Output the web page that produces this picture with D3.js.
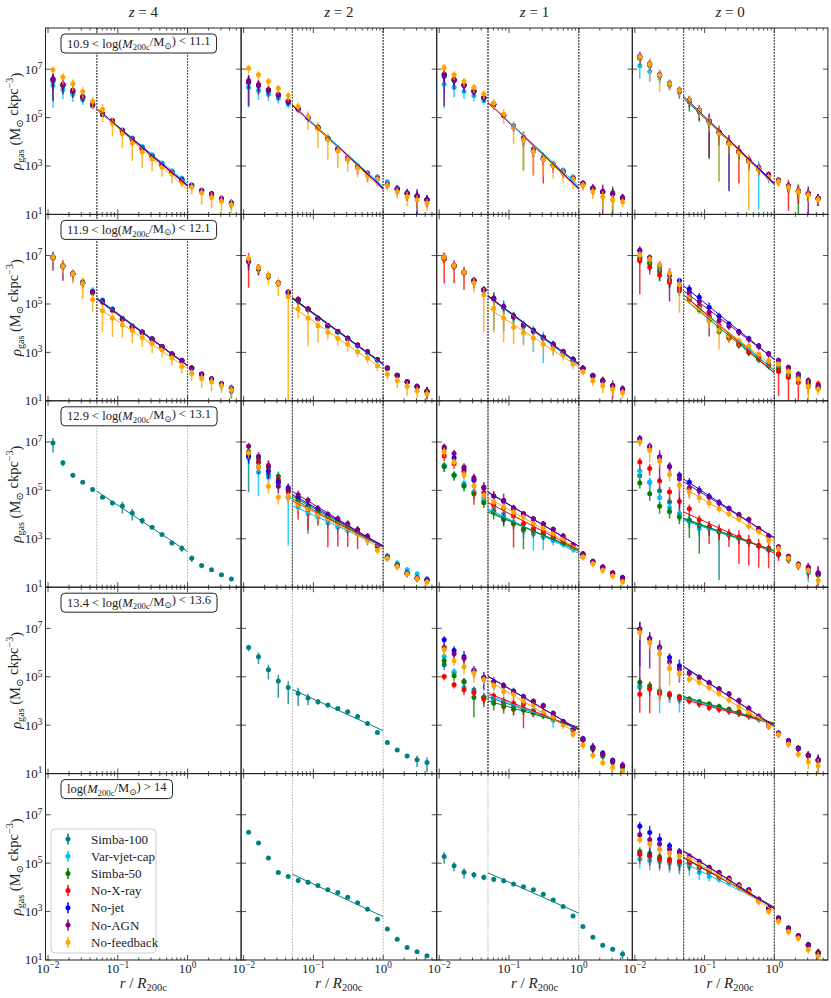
<!DOCTYPE html>
<html>
  <head>
    <meta charset="utf-8">
    <title>Gas density profiles</title>
    <style>
      body { margin: 0; background: #fff; }
      text { font-family: "Liberation Serif", "DejaVu Serif", serif; fill: #222; }
      .frame { fill: none; stroke: #222; stroke-width: 1px; }
      .tick { stroke: #222; stroke-width: 0.8px; }
    </style>
    <script src="https://cdn.jsdelivr.net/npm/d3@7"></script>
  </head>
  <body>
  <script type="text/javascript">
    // radial bin centres, r / R200c
    var rBins = [0.01178, 0.01634, 0.02266, 0.03143, 0.04358, 0.06044, 0.08382, 0.1162, 0.1612, 0.2236,
                 0.3101, 0.4300, 0.5964, 0.8271, 1.147, 1.591, 2.206, 3.060, 4.243];
    var seriesNames = ["Simba-100", "Var-vjet-cap", "Simba-50", "No-X-ray", "No-jet", "No-AGN", "No-feedback"];
    var seriesColors = ["#008080", "#00bfff", "#008000", "#ff0000", "#0000ff", "#800080", "#ffa500"];
    var zLabels = ["4", "2", "1", "0"];
    var massRanges = [["10.9", "11.1"], ["11.9", "12.1"], ["12.9", "13.1"], ["13.4", "13.6"], [null, "14"]];

    // log10(rho_gas) per series (order as seriesNames), and relative errors
    var rho_m11_z4 = [
      [6.50,6.30,6.05,5.80,5.50,5.13,4.85,4.45,4.10,3.73,3.40,3.05,2.74,2.43,2.18,1.97,1.83,1.64,1.46],
      [6.33,6.15,5.95,5.74,5.50,5.14,4.88,4.50,4.16,3.80,3.46,3.12,2.80,2.50,2.22,2.00,1.85,1.66,1.48],
      [6.55,6.33,6.08,5.83,5.52,5.12,4.85,4.44,4.09,3.72,3.39,3.04,2.73,2.42,2.18,1.97,1.82,1.63,1.45],
      [6.58,6.37,6.12,5.86,5.54,5.16,4.86,4.45,4.09,3.72,3.38,3.03,2.72,2.41,2.18,1.97,1.83,1.64,1.46],
      [6.60,6.38,6.13,5.87,5.55,5.15,4.88,4.47,4.12,3.75,3.41,3.06,2.76,2.44,2.20,1.99,1.85,1.66,1.48],
      [6.57,6.36,6.11,5.85,5.53,5.14,4.87,4.46,4.11,3.74,3.40,3.05,2.75,2.43,2.19,1.98,1.84,1.65,1.47],
      [6.98,6.67,6.40,6.08,5.67,5.33,4.77,4.33,3.95,3.57,3.29,2.95,2.67,2.32,2.12,1.88,1.70,1.54,1.40]];
    var err_m11_z4 = [
      [.85,.5,.4,.3,.25,.2,.2,.2,.2,.2,.2,.2,.2,.2,.2,.3,.3,.3,.4],
      [.88,.6,.5,.4,.3,.2,.2,.2,.2,.2,.2,.2,.2,.2,.2,.3,.3,.3,.4],
      [.6,.4,.3,.3,.2,.2,.2,.2,.2,.2,.2,.2,.2,.2,.2,.3,.3,.3,.3],
      [.6,.4,.3,.3,.2,.2,.2,.3,.3,.2,.2,.2,.2,.2,.2,.3,.3,.3,.3],
      [.6,.4,.3,.3,.2,.2,.2,.2,.2,.2,.2,.2,.2,.2,.2,.3,.3,.3,.3],
      [.87,.6,.5,.4,.3,.25,.25,.25,.25,.2,.2,.2,.2,.2,.2,.3,.3,.35,.4],
      [.35,.5,.5,.5,.5,.7,.72,.75,.82,.78,.7,.6,.6,.4,.5,.67,.64,.63,.55]];

    var rho_m11_z2 = [
      [6.45,6.33,6.12,5.92,5.64,5.35,5.00,4.58,4.13,3.70,3.31,2.97,2.68,2.49,2.24,2.04,1.87,1.75,1.61],
      [6.24,6.12,5.97,5.80,5.55,5.36,5.02,4.62,4.18,3.74,3.36,3.01,2.72,2.56,2.35,2.10,1.90,1.78,1.62],
      [6.50,6.34,6.13,5.93,5.65,5.35,4.99,4.58,4.13,3.69,3.31,2.96,2.68,2.48,2.23,2.04,1.86,1.76,1.61],
      [6.52,6.36,6.15,5.95,5.67,5.37,5.02,4.60,4.12,3.68,3.30,2.95,2.65,2.47,2.22,2.03,1.85,1.74,1.60],
      [6.48,6.34,6.13,5.93,5.65,5.34,4.98,4.57,4.12,3.68,3.30,2.95,2.66,2.48,2.22,2.04,1.86,1.75,1.61],
      [6.49,6.35,6.14,5.94,5.66,5.36,5.00,4.59,4.14,3.70,3.32,2.97,2.68,2.49,2.24,2.05,1.87,1.76,1.62],
      [7.04,6.77,6.49,6.21,5.90,5.46,5.02,4.55,4.08,3.62,3.28,2.93,2.62,2.45,2.20,1.94,1.73,1.59,1.45]];
    var err_m11_z2 = [
      [.9,.5,.4,.3,.3,.2,.2,.2,.2,.2,.2,.2,.2,.2,.2,.3,.3,.4,.4],
      [.85,.6,.5,.4,.3,.2,.2,.2,.2,.2,.2,.2,.2,.2,.3,.3,.3,.4,.4],
      [.5,.4,.3,.3,.3,.2,.2,.2,.2,.2,.2,.2,.2,.2,.2,.3,.3,.4,.4],
      [.5,.4,.3,.3,.3,.3,.4,.3,.3,.3,.4,.5,.5,.5,.3,.3,.4,.5,.5],
      [.5,.4,.3,.3,.3,.2,.2,.2,.2,.2,.2,.2,.2,.2,.3,.4,.5,.95,.5],
      [.9,.6,.5,.4,.3,.3,.3,.3,.3,.3,.3,.3,.3,.3,.3,.4,.5,.7,.5],
      [.4,.4,.4,.4,.4,.5,.7,.84,.85,.8,.7,.6,.5,.5,.4,.5,.6,.6,.5]];

    var rho_m11_z1 = [
      [6.70,6.52,6.32,6.08,5.81,5.54,5.10,4.62,4.13,3.66,3.32,3.04,2.77,2.49,2.28,2.08,1.94,1.86,1.68],
      [6.38,6.24,6.08,5.90,5.69,5.52,5.12,4.66,4.20,3.72,3.38,3.10,2.83,2.56,2.30,2.10,1.95,1.87,1.70],
      [6.80,6.57,6.36,6.10,5.83,5.55,5.10,4.62,4.13,3.64,3.30,3.02,2.75,2.48,2.27,2.07,1.94,1.86,1.68],
      [6.78,6.56,6.35,6.10,5.83,5.55,5.11,4.63,4.12,3.62,3.28,3.01,2.74,2.47,2.27,2.07,1.93,1.85,1.68],
      [6.76,6.55,6.34,6.09,5.82,5.54,5.10,4.62,4.13,3.65,3.31,3.03,2.76,2.48,2.28,2.08,1.94,1.86,1.69],
      [6.77,6.56,6.35,6.10,5.83,5.55,5.11,4.63,4.14,3.66,3.32,3.04,2.77,2.49,2.28,2.08,1.94,1.87,1.69],
      [7.07,6.77,6.49,6.24,5.97,5.60,5.14,4.60,4.07,3.60,3.28,3.00,2.72,2.45,2.20,1.94,1.73,1.60,1.52]];
    var err_m11_z1 = [
      [.8,.5,.4,.3,.3,.2,.2,.2,.3,.3,.3,.2,.2,.2,.2,.3,.3,.4,.4],
      [.9,.6,.5,.4,.3,.2,.2,.2,.2,.2,.2,.2,.2,.2,.2,.3,.3,.4,.4],
      [.5,.4,.3,.3,.3,.2,.2,.3,.95,.4,.4,.3,.2,.2,.2,.3,.3,.95,.4],
      [.5,.4,.3,.3,.3,.2,.3,.3,.5,.9,.9,.5,.4,.3,.3,.3,.4,.5,.4],
      [.5,.4,.3,.3,.3,.2,.2,.2,.3,.3,.3,.3,.3,.3,.3,.3,.4,.5,.4],
      [.95,.6,.5,.4,.3,.3,.3,.4,.5,.5,.5,.4,.3,.3,.4,.5,.95,.6,.4],
      [.4,.4,.4,.4,.4,.5,.6,.8,.95,.9,.8,.7,.6,.6,.4,.5,.7,.6,.4]];

    var rho_m11_z0 = [
      [7.45,7.16,6.74,6.38,6.10,5.70,5.26,4.84,4.38,3.94,3.58,3.22,2.90,2.60,2.39,2.15,1.96,1.84,1.66],
      [7.14,6.90,6.72,6.40,6.12,5.72,5.28,4.84,4.38,3.95,3.58,3.20,2.90,2.58,2.40,2.15,1.96,1.84,1.66],
      [7.48,7.18,6.74,6.38,6.08,5.65,5.24,4.80,4.35,3.92,3.56,3.20,2.88,2.58,2.38,2.14,1.95,1.84,1.65],
      [7.50,7.20,6.76,6.40,6.12,5.70,5.28,4.85,4.38,3.95,3.58,3.20,2.88,2.59,2.40,2.15,1.96,1.85,1.66],
      [7.52,7.21,6.77,6.41,6.13,5.72,5.30,4.86,4.40,3.97,3.60,3.23,2.90,2.62,2.41,2.17,1.97,1.86,1.67],
      [7.53,7.22,6.77,6.42,6.14,5.73,5.31,4.87,4.40,3.98,3.62,3.25,2.95,2.66,2.41,2.17,1.97,1.86,1.67],
      [7.50,7.20,6.75,6.40,6.12,5.72,5.28,4.82,4.35,3.92,3.55,3.18,2.88,2.55,2.36,2.12,1.94,1.80,1.62]];
    var err_m11_z0 = [
      [.5,.4,.4,.3,.3,.3,.3,.5,.5,.5,.4,.4,.3,.3,.3,.4,.5,.5,.5],
      [.7,.6,.5,.4,.3,.3,.4,.6,.99,.99,.6,.6,.98,.5,.3,.4,.5,.5,.5],
      [.5,.4,.4,.4,.5,.6,.6,.97,.7,.6,.5,.5,.4,.3,.3,.5,.98,.5,.5],
      [.5,.4,.4,.3,.3,.3,.4,.5,.6,.6,.95,.6,.5,.4,.4,.9,.7,.5,.5],
      [.5,.4,.4,.3,.3,.3,.3,.5,.5,.5,.5,.4,.4,.3,.3,.4,.5,.5,.5],
      [.5,.5,.4,.4,.4,.5,.6,.97,.7,.99,.6,.5,.4,.3,.3,.4,.5,.99,.5],
      [.5,.82,.8,.5,.4,.4,.5,.6,.99,.6,.6,.99,.5,.4,.4,.4,.5,.5,.4]];

    var rho_m12_z4 = [
      [6.90,6.55,6.23,5.87,5.48,5.10,4.75,4.38,4.06,3.82,3.54,3.23,2.92,2.65,2.35,2.10,1.90,1.68,1.40],
      [6.95,6.60,6.28,5.93,5.55,5.16,4.80,4.42,4.10,3.85,3.56,3.24,2.94,2.66,2.34,2.08,1.88,1.66,1.48],
      [6.92,6.56,6.24,5.86,5.47,5.09,4.74,4.37,4.05,3.82,3.54,3.22,2.92,2.65,2.35,2.10,1.90,1.69,1.50],
      [6.93,6.57,6.25,5.88,5.49,5.11,4.76,4.38,4.06,3.83,3.55,3.23,2.93,2.66,2.35,2.10,1.90,1.69,1.51],
      [6.94,6.57,6.25,5.88,5.50,5.12,4.76,4.39,4.07,3.84,3.56,3.24,2.94,2.67,2.36,2.11,1.91,1.70,1.52],
      [6.93,6.56,6.24,5.87,5.48,5.10,4.75,4.38,4.06,3.83,3.55,3.23,2.93,2.66,2.35,2.10,1.90,1.69,1.51],
      [6.93,6.56,6.24,5.85,5.18,4.72,4.41,4.13,3.90,3.62,3.37,3.11,2.77,2.42,2.13,1.92,1.79,1.62,1.45]];
    var err_m12_z4 = [
      [.3,.3,.3,.3,.3,.3,.2,.2,.2,.2,.2,.2,.2,.2,.2,.2,.3,.4,.5],
      [.3,.3,.3,.3,.4,.3,.3,.2,.2,.2,.2,.2,.2,.2,.2,.2,.3,.3,.4],
      [.3,.3,.3,.3,.3,.3,.2,.2,.2,.2,.2,.2,.2,.2,.2,.2,.3,.3,.4],
      [.3,.3,.3,.3,.3,.3,.2,.2,.2,.2,.2,.2,.2,.2,.2,.2,.3,.3,.4],
      [.3,.3,.3,.3,.3,.3,.2,.2,.2,.2,.2,.2,.2,.2,.2,.2,.3,.3,.4],
      [.72,.75,.5,.4,.3,.3,.2,.2,.2,.2,.2,.2,.2,.2,.2,.2,.3,.3,.4],
      [.4,.5,.6,.78,.7,.87,.83,.7,.7,.6,.6,.5,.5,.5,.5,.6,.6,.5,.5]];

    var rho_m12_z2 = [
      [6.76,6.46,6.15,5.86,5.47,5.16,4.78,4.40,4.09,3.85,3.57,3.29,3.02,2.69,2.34,2.05,1.78,1.57,1.37],
      [6.80,6.48,6.17,5.86,5.46,5.14,4.76,4.38,4.06,3.82,3.54,3.26,2.99,2.67,2.33,2.04,1.78,1.58,1.38],
      [6.74,6.44,6.14,5.86,5.47,5.12,4.78,4.40,4.09,3.85,3.57,3.29,3.02,2.70,2.35,2.06,1.79,1.59,1.39],
      [6.82,6.50,6.18,5.88,5.49,5.19,4.80,4.42,4.11,3.87,3.59,3.31,3.04,2.71,2.35,2.06,1.79,1.59,1.39],
      [6.78,6.47,6.16,5.87,5.48,5.17,4.79,4.41,4.10,3.86,3.58,3.30,3.03,2.70,2.35,2.06,1.79,1.59,1.39],
      [6.79,6.48,6.17,5.87,5.48,5.18,4.79,4.41,4.10,3.86,3.58,3.30,3.03,2.70,2.35,2.06,1.79,1.59,1.39],
      [6.88,6.50,6.17,5.85,5.30,4.79,4.41,4.10,3.83,3.58,3.34,3.03,2.77,2.45,2.10,1.83,1.59,1.41,1.28]];
    var err_m12_z2 = [
      [.4,.3,.3,.3,.3,.3,.2,.2,.2,.2,.2,.2,.2,.2,.2,.2,.3,.3,.5],
      [.4,.3,.3,.3,.3,.3,.3,.2,.2,.2,.3,.2,.2,.2,.2,.2,.3,.3,.4],
      [.4,.4,.3,.3,.3,.5,.3,.2,.2,.2,.2,.2,.2,.2,.2,.2,.3,.3,.4],
      [.93,.4,.3,.3,.3,.3,.2,.2,.2,.2,.2,.2,.2,.2,.2,.2,.3,.3,.4],
      [.4,.3,.3,.3,.3,.3,.2,.2,.2,.2,.2,.2,.2,.2,.2,.2,.3,.3,.5],
      [.6,.5,.3,.3,.3,.3,.2,.2,.2,.2,.2,.2,.2,.2,.2,.2,.3,.3,.5],
      [.4,.4,.6,.7,1,.6,.93,.8,.5,.5,.5,.4,.4,.4,.4,.5,.6,.5,.5]];

    var rho_m12_z1 = [
      [6.90,6.57,6.29,5.95,5.57,5.20,4.87,4.47,4.11,3.88,3.60,3.32,3.01,2.70,2.33,2.02,1.82,1.61,1.47],
      [6.92,6.58,6.30,5.96,5.58,5.22,4.86,4.45,4.07,3.84,3.56,3.29,2.98,2.68,2.32,2.01,1.81,1.60,1.46],
      [6.91,6.58,6.30,5.96,5.58,5.22,4.88,4.48,4.12,3.89,3.61,3.33,3.02,2.71,2.34,2.03,1.83,1.62,1.48],
      [6.85,6.55,6.28,5.95,5.58,5.22,4.88,4.48,4.12,3.89,3.61,3.33,3.02,2.71,2.34,2.03,1.83,1.62,1.48],
      [6.94,6.60,6.32,5.98,5.60,5.24,4.90,4.50,4.14,3.91,3.63,3.35,3.04,2.73,2.35,2.04,1.84,1.63,1.49],
      [6.93,6.59,6.31,5.97,5.59,5.23,4.89,4.49,4.13,3.90,3.62,3.34,3.03,2.72,2.34,2.03,1.83,1.62,1.48],
      [6.93,6.59,6.31,5.87,5.37,4.82,4.41,4.03,3.80,3.58,3.34,3.14,2.89,2.52,2.20,1.83,1.62,1.48,1.34]];
    var err_m12_z1 = [
      [.4,.3,.3,.3,.3,.95,.9,.6,.4,.3,.3,.3,.3,.3,.3,.3,.3,.3,.4],
      [.4,.3,.3,.3,.3,.4,.4,.6,.8,.85,.9,.6,.4,.3,.3,.3,.3,.3,.4],
      [.4,.3,.3,.3,.4,.6,.5,.5,.4,.3,.3,.3,.3,.3,.3,.3,.3,.3,.4],
      [.9,.8,.8,.5,.4,.3,.3,.3,.3,.3,.3,.3,.3,.3,.3,.3,.3,.3,.4],
      [.4,.3,.3,.3,.3,.3,.3,.3,.3,.3,.3,.3,.3,.3,.3,.3,.4,.3,.4],
      [.4,.3,.3,.3,.3,.3,.3,.3,.3,.3,.3,.3,.3,.3,.3,.3,.5,.7,.4],
      [.4,.3,.3,.6,.97,.9,.9,.8,.7,.6,.6,.5,.4,.4,.3,.4,.5,.5,.4]];

    var rho_m12_z0 = [
      [6.90,6.72,6.42,6.00,5.66,5.30,4.88,4.45,4.05,3.70,3.42,3.12,2.85,2.55,2.39,2.10,2.00,1.75,1.55],
      [6.93,6.75,6.45,6.03,5.69,5.35,4.93,4.38,4.03,3.62,3.41,3.11,2.83,2.56,2.35,2.08,1.98,1.75,1.55],
      [6.86,6.66,6.34,5.97,5.55,5.18,4.76,4.31,3.86,3.62,3.30,3.00,2.72,2.45,2.31,2.03,1.95,1.73,1.52],
      [6.79,6.52,6.20,5.90,5.62,5.21,4.90,4.52,4.10,3.58,3.34,3.03,2.75,2.48,2.21,1.97,1.76,1.59,1.69],
      [7.21,6.92,6.60,6.22,5.97,5.62,5.28,4.86,4.49,4.17,3.86,3.57,3.27,2.95,2.66,2.38,2.10,1.83,1.62],
      [7.21,6.90,6.59,6.20,5.76,5.48,5.10,4.66,4.31,4.08,3.83,3.55,3.25,2.93,2.66,2.38,2.10,1.83,1.59],
      [7.03,6.86,6.61,6.27,5.79,5.28,4.79,4.31,3.94,3.69,3.48,3.25,2.93,2.66,2.52,2.20,1.90,1.59,1.48]];
    var err_m12_z0 = [
      [.4,.3,.3,.3,.3,.3,.3,.3,.3,.3,.3,.3,.3,.3,.3,.3,.3,.3,.3],
      [.5,.6,.7,.5,.4,.3,.3,.3,.3,.3,.3,.3,.3,.3,.3,.3,.3,.3,.3],
      [.4,.5,.6,.5,.4,.3,.3,.3,.3,.3,.3,.3,.3,.3,.3,.3,.3,.3,.3],
      [.96,.5,.4,.4,.4,.3,.3,.3,.3,.3,.3,.3,.3,.3,.9,.9,.85,.5,.4],
      [.4,.3,.3,.3,.3,.5,.5,.6,.4,.3,.3,.3,.3,.3,.3,.3,.3,.3,.3],
      [.5,.4,.5,.92,.4,.3,.3,.9,.4,.3,.3,.3,.3,.3,.3,.3,.3,.4,.4],
      [.4,.4,.5,.6,.93,.4,.4,.5,.85,.5,.4,.4,.3,.3,.3,.4,.4,.9,.4]];

    var rho_m13_z4 = [
      [6.96,6.14,5.62,5.34,5.04,4.72,4.48,4.35,4.06,3.76,3.48,3.18,2.83,2.61,2.20,1.90,1.72,1.51,1.34]];
    var err_m13_z4 = [
      [.6,.3,.2,.15,.1,.15,.2,.5,.5,.3,.15,.1,.15,.3,.3,.1,.1,.1,.1]];

    var rho_m13_z2 = [
      [6.45,6.15,5.65,5.40,4.72,4.55,4.30,4.05,3.85,3.65,3.50,3.28,3.03,2.68,2.24,1.90,1.58,1.37,1.30],
      [6.35,5.76,5.55,5.30,4.72,4.31,4.03,3.90,3.65,3.48,3.34,3.21,3.07,2.68,2.31,2.00,1.72,1.55,1.35],
      [6.60,6.31,5.95,5.58,5.05,4.61,4.38,4.15,3.92,3.75,3.55,3.33,3.07,2.72,2.24,1.90,1.58,1.37,1.30],
      [6.52,6.17,5.99,5.44,4.93,4.42,4.20,4.06,3.81,3.68,3.50,3.28,3.03,2.70,2.24,1.90,1.58,1.37,1.30],
      [6.41,5.97,5.80,5.34,5.11,4.72,4.34,4.24,4.00,3.82,3.60,3.36,3.10,2.73,2.24,1.90,1.58,1.37,1.30],
      [6.82,6.41,6.03,5.17,5.00,4.82,4.59,4.24,4.01,3.83,3.62,3.37,3.10,2.72,2.24,1.90,1.58,1.37,1.30],
      [6.54,5.97,5.17,4.72,4.75,4.42,4.24,3.97,3.83,3.62,3.48,3.21,2.93,2.52,2.20,1.85,1.55,1.35,1.21]];
    var err_m13_z2 = [
      [.97,.5,.4,.4,.4,.5,.92,.4,.3,.3,.3,.3,.3,.3,.3,.3,.3,.3,.3],
      [.6,.9,.5,.5,.99,.5,.6,.5,.4,.4,.4,.3,.3,.3,.3,.3,.3,.3,.3],
      [.5,.5,.5,.6,.6,.4,.4,.3,.3,.3,.3,.3,.3,.3,.3,.3,.3,.3,.3],
      [.5,.5,.7,.5,.5,.77,.85,.7,.93,.9,.85,.8,.5,.3,.3,.3,.3,.3,.3],
      [.5,.5,.5,.5,.5,.4,.4,.4,.3,.3,.3,.3,.3,.3,.3,.3,.3,.3,.3],
      [.4,.5,.6,.5,.5,.5,.4,.4,.3,.3,.3,.3,.3,.3,.3,.3,.3,.3,.3],
      [.4,.4,.5,.5,.5,.5,.4,.4,.3,.3,.3,.3,.3,.3,.3,.3,.3,.3,.3]];

    var rho_m13_z1 = [
      [5.99,5.62,5.20,4.90,4.55,4.15,3.90,3.65,3.40,3.30,3.12,2.97,2.82,2.60,2.32,2.04,1.80,1.57,1.37],
      [6.03,5.65,5.28,4.95,4.66,4.24,4.03,3.66,3.35,3.21,3.07,2.93,2.79,2.58,2.30,2.02,1.78,1.56,1.35],
      [5.99,5.62,5.18,4.86,4.49,4.10,3.80,3.62,3.39,3.34,3.17,3.02,2.85,2.62,2.33,2.05,1.80,1.58,1.38],
      [6.42,6.10,5.79,5.41,4.90,4.40,4.27,3.94,3.62,3.41,3.28,3.11,2.95,2.68,2.35,2.05,1.80,1.55,1.35],
      [6.72,6.35,5.90,5.45,5.10,4.77,4.55,4.25,4.02,3.82,3.60,3.38,3.10,2.75,2.38,2.06,1.83,1.59,1.40],
      [6.79,6.52,5.97,5.52,5.14,4.77,4.59,4.27,4.03,3.83,3.62,3.39,3.11,2.75,2.38,2.06,1.83,1.59,1.37],
      [6.61,6.17,5.65,5.18,4.79,4.52,4.31,4.10,3.90,3.62,3.44,3.21,3.00,2.61,2.25,1.97,1.70,1.46,1.22]];
    var err_m13_z1 = [
      [.4,.3,.3,.3,.3,.3,.3,.3,.3,.3,.3,.3,.3,.3,.3,.3,.3,.3,.3],
      [.4,.4,.4,.3,.4,.4,.4,.4,.5,.8,.7,.4,.3,.3,.3,.3,.3,.3,.3],
      [.4,.4,.4,.4,.4,.5,.5,.4,.85,.5,.4,.3,.3,.3,.3,.3,.3,.3,.3],
      [.4,.4,.5,.9,.5,.4,.5,.95,.6,.5,.4,.3,.3,.3,.3,.3,.3,.3,.3],
      [.4,.4,.4,.4,.4,.4,.4,.4,.3,.3,.3,.3,.3,.3,.3,.3,.3,.3,.3],
      [.4,.4,.4,.4,.6,.6,.9,.4,.3,.3,.3,.3,.3,.3,.3,.3,.3,.3,.3],
      [.4,.4,.4,.4,.4,.4,.4,.4,.3,.3,.3,.3,.3,.3,.3,.3,.3,.3,.3]];

    var rho_m13_z0 = [
      [5.60,5.34,4.98,4.52,4.03,3.78,3.58,3.48,3.30,3.18,3.04,2.89,2.71,2.56,2.35,2.15,1.90,1.68,1.52],
      [5.80,5.34,4.70,4.28,4.03,3.75,3.41,3.42,3.30,3.15,3.02,2.88,2.70,2.55,2.35,2.15,1.90,1.60,1.55],
      [5.30,4.86,4.34,4.13,3.90,3.73,3.55,3.50,3.28,3.20,3.03,2.88,2.72,2.58,2.36,2.16,1.92,1.70,1.50],
      [6.17,5.90,5.39,4.93,4.54,4.24,3.79,3.48,3.34,3.18,3.07,2.90,2.72,2.61,2.38,2.20,1.94,1.76,1.59],
      [7.14,6.82,6.38,5.99,5.62,5.34,5.00,4.75,4.50,4.26,4.00,3.80,3.42,3.12,2.66,2.27,1.94,1.80,1.55],
      [7.10,6.79,6.38,5.99,5.48,5.11,4.97,4.72,4.48,4.24,3.99,3.79,3.41,3.10,2.66,2.27,1.94,1.83,1.60],
      [7.00,6.66,6.21,5.66,5.21,4.93,4.70,4.48,4.24,4.03,3.83,3.52,3.30,2.93,2.60,2.20,1.90,1.70,1.28]];
    var err_m13_z0 = [
      [.4,.5,.5,.5,.5,.5,.4,.5,.99,.4,.4,.3,.3,.3,.3,.3,.3,.4,.5],
      [.5,.5,.5,.5,.5,.5,.5,.5,.5,.4,.4,.4,.3,.3,.3,.3,.3,.6,.5],
      [.4,.5,.5,.5,.5,.8,.93,.6,.5,.4,.4,.4,.3,.3,.3,.3,.3,.4,.5],
      [.5,.5,.5,.6,.5,.5,.5,.8,.6,.7,.92,.9,.88,.85,.5,.4,.4,.6,.7],
      [.4,.4,.4,.4,.4,.5,.5,.4,.4,.3,.3,.3,.3,.3,.3,.3,.3,.3,.3],
      [.4,.4,.9,.5,.95,.6,.4,.4,.3,.3,.3,.3,.3,.3,.3,.3,.3,.5,.9],
      [.4,.7,.5,.5,.5,.5,.4,.4,.3,.3,.3,.3,.3,.3,.3,.3,.3,.3,.6]];

    var rho_m135_z2 = [
      [6.21,5.83,5.29,4.83,4.56,4.32,4.12,3.97,3.83,3.69,3.55,3.36,3.07,2.70,2.28,1.98,1.73,1.57,1.46]];
    var err_m135_z2 = [
      [.3,.5,.6,.8,.8,.7,.5,.25,.2,.15,.15,.15,.15,.15,.15,.15,.2,.5,.6]];

    var rho_m135_z1 = [
      [5.50,5.18,4.79,4.45,4.14,4.05,3.92,3.78,3.66,3.55,3.43,3.30,3.12,2.82,2.41,2.04,1.76,1.50,1.30],
      [5.84,5.20,4.56,4.35,4.15,4.10,4.00,3.82,3.70,3.62,3.46,3.20,3.10,2.80,2.40,2.00,1.72,1.45,1.25],
      [5.66,5.04,4.80,4.14,4.14,3.91,3.77,3.66,3.63,3.50,3.41,3.32,3.14,2.83,2.42,2.02,1.75,1.48,1.28],
      [5.01,4.67,4.46,4.35,4.08,4.21,3.97,3.91,3.87,3.55,3.46,3.34,3.12,2.83,2.39,2.08,1.80,1.52,1.32],
      [6.53,6.08,5.83,5.27,4.97,4.80,4.64,4.40,4.18,3.99,3.81,3.49,3.15,2.84,2.45,2.10,1.85,1.55,1.35],
      [6.21,5.95,5.76,5.25,4.97,4.79,4.63,4.38,4.17,3.98,3.80,3.48,3.14,2.83,2.42,2.08,1.82,1.53,1.33],
      [6.12,5.66,5.41,5.15,4.88,4.63,4.38,4.28,4.01,3.83,3.55,3.32,3.00,2.63,2.17,1.76,1.45,1.25,1.11]];
    var err_m135_z1 = [
      [.4,.4,.4,.4,.4,.3,.3,.3,.3,.3,.3,.3,.3,.3,.3,.3,.3,.3,.3],
      [.4,.4,.4,.4,.4,.4,.3,.3,.3,.3,.3,.5,.3,.3,.3,.3,.3,.3,.3],
      [.4,.4,.4,.85,.6,.5,.5,.4,.4,.3,.3,.3,.3,.3,.3,.3,.3,.3,.3],
      [.3,.3,.4,.4,.4,.4,.6,.7,.9,.4,.3,.3,.3,.3,.3,.3,.3,.3,.5],
      [.4,.5,.7,.5,.7,.5,.4,.4,.3,.3,.3,.3,.3,.3,.3,.5,.3,.3,.3],
      [.4,.4,.5,.3,.3,.3,.3,.3,.3,.3,.3,.3,.3,.3,.3,.3,.3,.3,.3],
      [.4,.4,.5,.6,.4,.4,.4,.4,.3,.3,.3,.3,.3,.3,.3,.3,.3,.3,.3]];

    var rho_m135_z0 = [
      [4.60,4.55,4.35,4.24,4.10,4.05,3.94,3.84,3.73,3.62,3.52,3.42,3.30,2.99,2.66,2.35,2.04,1.75,1.54],
      [4.56,4.50,4.32,4.25,4.05,4.03,3.92,3.82,3.70,3.60,3.48,3.38,3.26,2.97,2.65,2.34,2.03,1.74,1.52],
      [4.77,4.63,4.40,4.28,4.18,4.08,3.97,3.87,3.77,3.66,3.55,3.45,3.33,3.02,2.67,2.36,2.05,1.74,1.55],
      [4.28,4.49,4.32,4.28,4.14,4.01,3.87,3.73,3.66,3.59,3.50,3.39,3.28,3.00,2.66,2.35,2.05,1.76,1.55],
      [6.97,6.58,6.22,5.80,5.46,5.18,4.98,4.76,4.50,4.30,4.02,3.70,3.37,3.00,2.67,2.36,2.05,1.76,1.57],
      [6.97,6.56,6.21,5.62,5.32,5.15,4.97,4.74,4.49,4.28,4.01,3.69,3.36,3.00,2.67,2.35,2.05,1.76,1.57],
      [6.83,6.42,5.94,5.34,5.11,4.90,4.77,4.56,4.32,4.05,3.77,3.52,3.32,2.97,2.62,2.21,1.80,1.48,1.32]];
    var err_m135_z0 = [
      [.4,.4,.4,.5,.4,.3,.3,.3,.3,.3,.3,.3,.3,.3,.3,.3,.3,.4,.8],
      [.5,.5,.85,.5,.7,.3,.3,.3,.3,.3,.3,.3,.3,.3,.3,.3,.3,.4,.5],
      [.5,.5,.5,.4,.3,.3,.3,.3,.3,.3,.3,.3,.3,.3,.3,.3,.3,.4,.5],
      [.83,.9,.5,.4,.4,.3,.3,.3,.3,.3,.3,.3,.3,.3,.3,.3,.3,.4,.5],
      [.97,.5,.5,.5,.8,.3,.3,.3,.3,.3,.3,.3,.3,.3,.3,.3,.3,.5,.5],
      [.995,.94,.99,.5,.4,.3,.3,.3,.3,.3,.3,.3,.3,.3,.3,.3,.3,.4,.5],
      [.5,.5,.99,.8,.5,.3,.3,.3,.3,.3,.3,.3,.3,.3,.3,.3,.3,.5,.9]];

    var rho_m14_z2 = [
      [6.28,5.83,5.21,4.61,4.45,4.28,4.21,4.08,3.90,3.79,3.59,3.37,3.10,2.68,2.28,1.86,1.52,1.34,1.18]];
    var err_m14_z2 = [
      [.1,.1,.1,.1,.1,.1,.1,.1,.1,.1,.1,.1,.1,.1,.1,.1,.1,.1,.1]];

    var rho_m14_z1 = [
      [5.28,4.89,4.63,4.52,4.42,4.34,4.27,4.14,4.03,3.90,3.72,3.48,3.21,2.82,2.38,1.94,1.61,1.44,1.25]];
    var err_m14_z1 = [
      [.5,.4,.45,.3,.25,.25,.2,.15,.1,.1,.1,.1,.1,.1,.1,.1,.1,.15,.4]];

    var rho_m14_z0 = [
      [5.40,5.30,5.20,5.12,5.00,5.00,4.80,4.64,4.45,4.28,4.05,3.86,3.49,3.13,2.71,2.30,1.98,1.62,1.28],
      [5.17,5.11,5.07,5.00,4.93,4.86,4.61,4.45,4.35,4.20,4.00,3.82,3.45,3.10,2.68,2.28,1.96,1.58,1.25],
      [5.48,5.40,5.25,5.15,5.08,5.00,4.85,4.65,4.48,4.30,4.08,3.88,3.50,3.15,2.73,2.32,2.00,1.64,1.32],
      [5.37,5.30,5.17,5.11,5.07,5.03,4.83,4.66,4.45,4.30,4.05,3.85,3.48,3.12,2.70,2.30,1.98,1.62,1.30],
      [6.52,6.27,5.99,5.72,5.48,5.25,5.05,4.82,4.60,4.37,4.10,3.89,3.50,3.13,2.72,2.31,2.00,1.63,1.30],
      [6.17,5.97,5.79,5.58,5.44,5.30,5.07,4.82,4.61,4.38,4.10,3.90,3.51,3.14,2.72,2.31,2.00,1.62,1.30],
      [5.97,5.79,5.58,5.41,5.30,5.17,4.93,4.72,4.50,4.28,4.03,3.80,3.42,3.00,2.60,2.17,1.90,1.42,1.15]];
    var err_m14_z0 = [
      [.5,.6,.6,.6,.6,.5,.4,.3,.3,.3,.3,.3,.3,.3,.3,.3,.3,.3,.5],
      [.6,.6,.6,.6,.6,.6,.5,.4,.3,.3,.3,.3,.3,.3,.3,.3,.3,.3,.4],
      [.5,.5,.5,.5,.5,.5,.4,.3,.3,.3,.3,.3,.3,.3,.3,.3,.3,.3,.4],
      [.6,.6,.6,.6,.6,.5,.4,.3,.3,.3,.3,.3,.3,.3,.3,.3,.3,.3,.4],
      [.5,.9,.7,.4,.4,.3,.3,.3,.3,.3,.3,.3,.3,.3,.3,.3,.3,.3,.4],
      [.3,.3,.3,.3,.3,.3,.3,.3,.3,.3,.3,.3,.3,.3,.3,.3,.3,.3,.4],
      [.3,.3,.3,.3,.3,.3,.3,.3,.3,.3,.3,.3,.3,.3,.3,.3,.3,.3,.5]];

    // rows = mass bins, columns = redshifts
    var panelRho = [
      [rho_m11_z4, rho_m11_z2, rho_m11_z1, rho_m11_z0],
      [rho_m12_z4, rho_m12_z2, rho_m12_z1, rho_m12_z0],
      [rho_m13_z4, rho_m13_z2, rho_m13_z1, rho_m13_z0],
      [null, rho_m135_z2, rho_m135_z1, rho_m135_z0],
      [null, rho_m14_z2, rho_m14_z1, rho_m14_z0]];
    var panelErr = [
      [err_m11_z4, err_m11_z2, err_m11_z1, err_m11_z0],
      [err_m12_z4, err_m12_z2, err_m12_z1, err_m12_z0],
      [err_m13_z4, err_m13_z2, err_m13_z1, err_m13_z0],
      [null, err_m135_z2, err_m135_z1, err_m135_z0],
      [null, err_m14_z2, err_m14_z1, err_m14_z0]];

    // ("top" is taken by window.top, so the margins get their own names)
    var figW = 831, figH = 998;
    var padLeft = 45.5, padTop = 28;
    var panelW = 195.6, panelH = 186.4;
    var fitLo = 0.05, fitHi = 1;

    var svg = d3.select("body").append("svg")
                .attr("width", figW)
                .attr("height", figH);

    svg.append("defs").append("clipPath").attr("id", "panelClip")
       .append("rect").attr("width", panelW).attr("height", panelH);

    var x = d3.scaleLog().domain([0.0092, 5.85]).range([0, panelW]);
    var y = d3.scaleLog().domain([10, Math.pow(10, 8.7)]).range([panelH, 0]);

    var xMajor = [0.01, 0.1, 1];
    var xMinor = [];
    [0.01, 0.1, 1].forEach(function(d){
      for (var m = 2; m <= 9; m++) if (d*m < 5.85) xMinor.push(d*m);
    });
    var yMajor = [1e1, 1e3, 1e5, 1e7];

    // little helper for 10^n labels
    function powText(sel, exp) {
      sel.append("tspan").text("10");
      sel.append("tspan").attr("dy", "-0.5em").attr("font-size", "0.72em").text(exp);
    }

    // least squares power law on the points inside the fit range
    function fitLine(vals) {
      var xs = [], ys = [];
      rBins.forEach(function(r, i){
        if (r > fitLo && r < fitHi) { xs.push(Math.log10(r)); ys.push(vals[i]); }
      });
      var mx = d3.mean(xs), my = d3.mean(ys);
      var sxy = d3.sum(xs, function(v, i){ return (v - mx)*(ys[i] - my); });
      var sxx = d3.sum(xs, function(v){ return (v - mx)*(v - mx); });
      var b = sxy / sxx, a = my - b*mx;
      return [fitLo, fitHi].map(function(r){ return [r, Math.pow(10, a + b*Math.log10(r))]; });
    }

    for (var row = 0; row < 5; row++) {
      for (var col = 0; col < 4; col++) {
        var g = svg.append("g")
                   .attr("transform", "translate(" + (padLeft + col*panelW) + "," + (padTop + row*panelH) + ")");
        var data = panelRho[row][col], errs = panelErr[row][col];
        var plot = g.append("g").attr("clip-path", "url(#panelClip)");

        if (data) {
          // reference lines at the fit limits (one per series, like the original)
          data.forEach(function(){
            [fitLo, fitHi].forEach(function(r){
              plot.append("line")
                  .attr("x1", x(r)).attr("x2", x(r))
                  .attr("y1", 0).attr("y2", panelH)
                  .attr("stroke", "#555").attr("stroke-opacity", 0.45)
                  .attr("stroke-width", 1).attr("stroke-dasharray", "1.6,1.4");
            });
          });

          data.forEach(function(vals, s){
            var pts = vals.map(function(v, i){
              var e = errs[s][i];
              return {
                r: rBins[i], v: Math.pow(10, v),
                hi: Math.pow(10, v) * (1 + e),
                lo: e >= 1 ? 1 : Math.pow(10, v) * (1 - e)
              };
            });
            var sg = plot.append("g");
            sg.selectAll("line.err").data(pts).enter().append("line")
              .attr("class", "err")
              .attr("x1", function(d){ return x(d.r); })
              .attr("x2", function(d){ return x(d.r); })
              .attr("y1", function(d){ return y(Math.max(d.lo, 1)); })
              .attr("y2", function(d){ return y(d.hi); })
              .attr("stroke", seriesColors[s])
              .attr("stroke-opacity", 0.8)
              .attr("stroke-width", 1.5);
            sg.selectAll("circle").data(pts).enter().append("circle")
              .attr("cx", function(d){ return x(d.r); })
              .attr("cy", function(d){ return y(d.v); })
              .attr("r", 2.5)
              .attr("fill", seriesColors[s]);
          });

          data.forEach(function(vals, s){
            var seg = fitLine(vals);
            plot.append("path")
                .attr("d", d3.line().x(function(d){ return x(d[0]); }).y(function(d){ return y(d[1]); })(seg))
                .attr("fill", "none")
                .attr("stroke", seriesColors[s])
                .attr("stroke-width", 1);
          });
        }

        // ticks, inward on all four sides
        xMajor.forEach(function(t){
          g.append("line").attr("class", "tick").attr("x1", x(t)).attr("x2", x(t)).attr("y1", panelH).attr("y2", panelH - 5);
          g.append("line").attr("class", "tick").attr("x1", x(t)).attr("x2", x(t)).attr("y1", 0).attr("y2", 5);
        });
        xMinor.forEach(function(t){
          g.append("line").attr("class", "tick").attr("x1", x(t)).attr("x2", x(t)).attr("y1", panelH).attr("y2", panelH - 2.5);
          g.append("line").attr("class", "tick").attr("x1", x(t)).attr("x2", x(t)).attr("y1", 0).attr("y2", 2.5);
        });
        yMajor.forEach(function(t){
          g.append("line").attr("class", "tick").attr("x1", 0).attr("x2", 5).attr("y1", y(t)).attr("y2", y(t));
          g.append("line").attr("class", "tick").attr("x1", panelW).attr("x2", panelW - 5).attr("y1", y(t)).attr("y2", y(t));
        });

        g.append("rect").attr("class", "frame").attr("width", panelW).attr("height", panelH);

        if (col === 0) {
          yMajor.forEach(function(t){
            var tx = g.append("text").attr("x", -3).attr("y", y(t) + 4.5)
                      .attr("text-anchor", "end").attr("font-size", 13);
            powText(tx, String(Math.round(Math.log10(t))));
          });
        }
        if (row === 4) {
          xMajor.forEach(function(t){
            var tx = g.append("text").attr("x", x(t)).attr("y", panelH + 13)
                      .attr("text-anchor", "middle").attr("font-size", 13);
            powText(tx, String(Math.round(Math.log10(t))).replace("-", "\u2212"));
          });
        }
      }
    }

    // redshift titles
    zLabels.forEach(function(z, c){
      var t = svg.append("text").attr("x", padLeft + (c + 0.5)*panelW).attr("y", 17)
                 .attr("text-anchor", "middle").attr("font-size", 15);
      t.append("tspan").attr("font-style", "italic").text("z");
      t.append("tspan").text(" = " + z);
    });

    // x labels
    zLabels.forEach(function(z, c){
      var t = svg.append("text").attr("x", padLeft + (c + 0.5)*panelW).attr("y", 988)
                 .attr("text-anchor", "middle").attr("font-size", 15);
      t.append("tspan").attr("font-style", "italic").text("r");
      t.append("tspan").text(" / ");
      t.append("tspan").attr("font-style", "italic").text("R");
      t.append("tspan").attr("font-size", "0.7em").attr("dy", "0.3em").text("200c");
    });

    // y labels and mass boxes
    massRanges.forEach(function(m, r){
      var cy = padTop + (r + 0.5)*panelH;
      var t = svg.append("text").attr("transform", "translate(21," + cy + ") rotate(-90)")
                 .attr("text-anchor", "middle").attr("font-size", 14.5);
      t.append("tspan").attr("font-style", "italic").text("\u03c1");
      t.append("tspan").attr("font-size", "0.7em").attr("dy", "0.3em").text("gas");
      t.append("tspan").attr("dy", "-0.3em").text(" (M");
      t.append("tspan").attr("font-size", "0.7em").attr("dy", "0.3em").text("\u2299");
      t.append("tspan").attr("dy", "-0.3em").text(" ckpc");
      t.append("tspan").attr("font-size", "0.7em").attr("dy", "-0.5em").text("\u22123");
      t.append("tspan").attr("dy", "0.5em").text(")");

      var bx = padLeft + 15.5, by = padTop + r*panelH + 6;
      var box = svg.append("rect").attr("x", bx).attr("y", by).attr("height", 19).attr("rx", 4)
                   .attr("fill", "#fff").attr("stroke", "#222").attr("stroke-width", 1);
      var lt = svg.append("text").attr("x", bx + 6).attr("y", by + 13.5).attr("font-size", 12.5);
      if (m[0]) lt.append("tspan").text(m[0] + " < ");
      lt.append("tspan").text("log(");
      lt.append("tspan").attr("font-style", "italic").text("M");
      lt.append("tspan").attr("font-size", "0.7em").attr("dy", "0.3em").text("200c");
      lt.append("tspan").attr("dy", "-0.3em").text("/M");
      lt.append("tspan").attr("font-size", "0.7em").attr("dy", "0.3em").text("\u2299");
      lt.append("tspan").attr("dy", "-0.3em").text(m[0] ? ") < " + m[1] : ") > " + m[1]);
      box.attr("width", lt.node().getComputedTextLength() + 12);
    });

    // legend in the empty bottom-left panel
    var lg = svg.append("g").attr("transform", "translate(51,829)");
    lg.append("rect").attr("width", 105).attr("height", 124).attr("rx", 4)
      .attr("fill", "#fff").attr("stroke", "#ccc").attr("stroke-width", 1);
    seriesNames.forEach(function(name, i){
      var ly = 10 + i*17.2;
      lg.append("line").attr("x1", 17).attr("x2", 17).attr("y1", ly - 5.5).attr("y2", ly + 5.5)
        .attr("stroke", seriesColors[i]).attr("stroke-width", 1.5);
      lg.append("circle").attr("cx", 17).attr("cy", ly).attr("r", 2.5).attr("fill", seriesColors[i]);
      lg.append("text").attr("x", 40).attr("y", ly + 4.5).attr("font-size", 13).text(name);
    });
  </script>
  </body>
</html>
